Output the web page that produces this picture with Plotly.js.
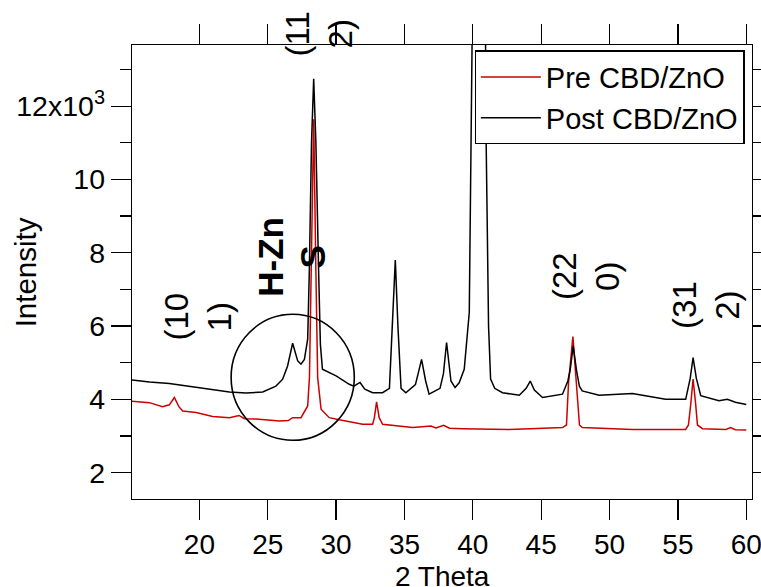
<!DOCTYPE html>
<html>
<head>
<meta charset="utf-8">
<script src="https://cdn.plot.ly/plotly-3.0.1.min.js"></script>
<style>
  html, body { margin: 0; padding: 0; background: #ffffff; }
  #chart { width: 761px; height: 587px; }
</style>
</head>
<body>
<div id="chart"></div>
<script>
// 2 Theta (degrees) and intensity (counts)
const postTheta = [15.07, 16.35, 17.8, 19.27, 20.73, 22.2, 23.4, 24.63, 25.6, 26.09, 26.45, 26.82, 27.19, 27.43, 27.68, 27.92, 28.04, 28.2, 28.36, 28.52, 28.72, 28.85, 29.0, 30.0, 30.96, 31.3, 31.75, 32.1, 32.67, 33.4, 33.9, 34.13, 34.33, 34.52, 34.75, 35.1, 35.8, 36.0, 36.25, 36.55, 36.8, 37.6, 37.85, 38.08, 38.4, 38.7, 39.0, 39.37, 39.74, 39.95, 40.45, 40.93, 40.96, 41.15, 41.3, 41.6, 42.17, 43.4, 43.9, 44.2, 44.5, 45.1, 46.56, 46.95, 47.12, 47.34, 47.58, 47.8, 48.0, 49.24, 51.67, 54.1, 55.57, 55.9, 56.11, 56.35, 56.67, 58.0, 58.62, 59.2, 60.0];
const postIntensity = [4530, 4470, 4430, 4350, 4260, 4200, 4170, 4200, 4360, 4550, 4910, 5530, 5050, 4960, 5090, 5640, 7500, 11000, 12750, 11000, 7500, 5500, 4820, 4640, 4410, 4360, 4460, 4280, 4180, 4180, 4300, 6000, 7800, 6000, 4300, 4180, 4400, 4700, 5090, 4500, 4140, 4300, 4700, 5550, 4500, 4320, 4450, 4820, 6370, 13900, 30000, 13900, 11450, 6000, 4550, 4300, 4180, 4110, 4300, 4500, 4250, 4050, 4140, 4500, 4800, 5460, 4800, 4350, 4230, 4110, 4160, 4000, 4000, 4570, 5140, 4570, 4100, 3960, 4000, 3920, 3860];

const preTheta = [15.07, 16.35, 17.3, 17.8, 18.17, 18.5, 18.78, 19.76, 20.97, 22.2, 22.9, 23.3, 24.14, 25.85, 26.5, 26.82, 27.43, 27.92, 28.05, 28.17, 28.36, 28.52, 28.65, 28.9, 29.5, 30.23, 31.94, 32.67, 32.8, 32.96, 33.15, 33.4, 35.6, 36.94, 37.3, 37.86, 38.3, 39.25, 42.66, 44.2, 46.56, 46.85, 47.0, 47.32, 47.58, 47.8, 48.0, 51.67, 55.57, 55.77, 55.94, 56.11, 56.3, 56.43, 56.8, 58.5, 58.86, 59.2, 60.0];
const preIntensity = [3950, 3910, 3800, 3850, 4050, 3800, 3680, 3640, 3530, 3500, 3560, 3470, 3460, 3410, 3420, 3500, 3500, 3820, 4600, 7500, 11640, 7500, 4600, 3730, 3500, 3440, 3320, 3320, 3500, 3930, 3500, 3320, 3230, 3270, 3220, 3290, 3210, 3200, 3180, 3200, 3230, 3300, 4450, 5710, 4450, 3300, 3230, 3180, 3180, 3300, 3870, 4550, 3870, 3300, 3200, 3180, 3230, 3170, 3160];

const seriesNames = ["Pre CBD/ZnO", "Post CBD/ZnO"];
const yTickVals = [2000, 4000, 6000, 8000, 10000, 12000];
const yTickText = ["2", "4", "6", "8", "10", "12x10<sup>3</sup>"];
const yMinorVals = [3000, 5000, 7000, 9000, 11000, 13000];
const xTickVals = [20, 25, 30, 35, 40, 45, 50, 55, 60];

const FONT = "Liberation Sans, Arial, sans-serif";

const traces = [
  { x: preTheta, y: preIntensity, name: seriesNames[0], type: "scatter", mode: "lines",
    line: { color: "#cc0000", width: 1.5 } },
  { x: postTheta, y: postIntensity, name: seriesNames[1], type: "scatter", mode: "lines",
    line: { color: "#000000", width: 1.5 } }
];

const layout = {
  width: 761, height: 587,
  margin: { l: 132, r: 9, t: 45, b: 88 },
  paper_bgcolor: "#ffffff", plot_bgcolor: "#ffffff",
  font: { family: FONT, size: 28, color: "#000000" },
  showlegend: true,
  legend: {
    x: 0.988, xanchor: "right", y: 0.988, yanchor: "top",
    bgcolor: "#ffffff", bordercolor: "#000000", borderwidth: 1.3,
    font: { family: FONT, size: 29, color: "#000000" },
    itemwidth: 60,
    tracegroupgap: 0
  },
  xaxis: {
    range: [15.07, 60.42], tickmode: "array", tickvals: xTickVals,
    ticks: "outside", ticklen: 20, tickwidth: 1.3, tickcolor: "#000",
    showline: true, linecolor: "#000", linewidth: 1.3, mirror: "ticks",
    showgrid: false, zeroline: false, ticklabeloverflow: "allow",
    tickfont: { family: FONT, size: 28 }
  },
  yaxis: {
    range: [1280, 13670], tickmode: "array", tickvals: yTickVals, ticktext: yTickText,
    ticks: "outside", ticklen: 20, tickwidth: 1.3, tickcolor: "#000",
    minor: { tickmode: "array", tickvals: yMinorVals, ticks: "outside", ticklen: 11, tickwidth: 1.3, tickcolor: "#000", showgrid: false },
    showline: true, linecolor: "#000", linewidth: 1.3, mirror: "ticks",
    showgrid: false, zeroline: false,
    tickfont: { family: FONT, size: 28.5 }
  },
  shapes: [
    { type: "circle", xref: "x", yref: "y", x0: 22.32, x1: 31.33, y0: 2883, y1: 6320,
      line: { color: "#000", width: 1.6 } }
  ],
  annotations: [
    { text: "Intensity", xref: "paper", yref: "paper", x: -0.172, y: 0.5, textangle: -90,
      showarrow: false, xanchor: "center", yanchor: "middle", font: { size: 29.5 } },
    { text: "2 Theta", xref: "paper", yref: "paper", x: 0.5, y: -0.170,
      showarrow: false, xanchor: "center", yanchor: "middle", font: { size: 28 } },
    { text: "(11<br>2)", xref: "x", yref: "paper", x: 28.77, y: 1.024, textangle: -90,
      showarrow: false, xanchor: "center", yanchor: "middle", font: { size: 33 } },
    { text: "(10<br>1)", xref: "x", yref: "y", x: 19.93, y: 6270, textangle: -90,
      showarrow: false, xanchor: "center", yanchor: "middle", font: { size: 33 } },
    { text: "<b>H-Zn</b>", xref: "x", yref: "y", x: 25.19, y: 7900, textangle: -90,
      showarrow: false, xanchor: "center", yanchor: "middle", font: { size: 35 } },
    { text: "<b>S</b>", xref: "x", yref: "y", x: 28.28, y: 7890, textangle: -90,
      showarrow: false, xanchor: "center", yanchor: "middle", font: { size: 35 } },
    { text: "(22<br>0)", xref: "x", yref: "y", x: 48.27, y: 7360, textangle: -90,
      showarrow: false, xanchor: "center", yanchor: "middle", font: { size: 33 } },
    { text: "(31<br>2)", xref: "x", yref: "y", x: 57.1, y: 6565, textangle: -90,
      showarrow: false, xanchor: "center", yanchor: "middle", font: { size: 33 } }
  ]
};

Plotly.newPlot("chart", traces, layout, { displayModeBar: false, staticPlot: true });
</script>
</body>
</html>
